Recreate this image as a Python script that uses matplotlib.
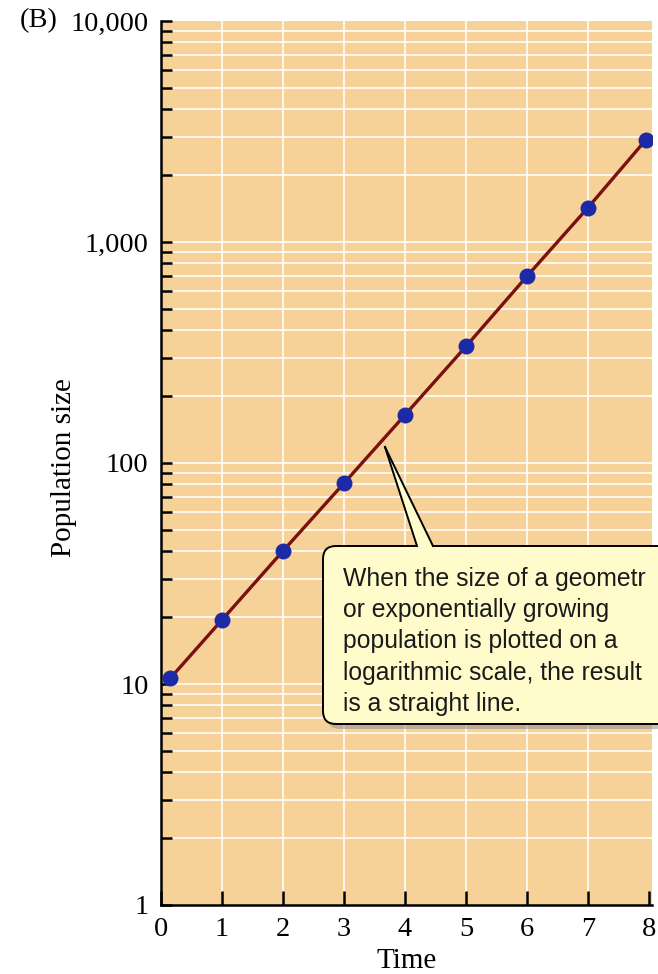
import matplotlib
matplotlib.use("Agg")
import matplotlib.pyplot as plt
from matplotlib.patches import FancyBboxPatch, Polygon
from matplotlib.transforms import IdentityTransform
from matplotlib.lines import Line2D
from matplotlib.ticker import FixedLocator, NullFormatter

# ---- data ----
time = [0.15, 1, 2, 3, 4, 5, 6, 7, 7.95]
population = [10.6, 19.5, 40, 81, 165, 337, 700, 1430, 2900]
x_ticks = [0, 1, 2, 3, 4, 5, 6, 7, 8]
y_ticks = [1, 10, 100, 1000, 10000]
y_tick_labels = ["1", "10", "100", "1,000", "10,000"]
callout_lines = [
    "When the size of a geometr",
    "or exponentially growing",
    "population is plotted on a",
    "logarithmic scale, the result",
    "is a straight line.",
]

W, H = 658, 974
DPI = 100
fig = plt.figure(figsize=(W / DPI, H / DPI), dpi=DPI)
fig.patch.set_facecolor("white")

def fx(x):
    return x / W

def fy(y):
    return 1 - y / H

# axes placement (pixels, y from top)
L, R, T, B = 161, 652, 21, 905
ax = fig.add_axes([fx(L), fy(B), fx(R) - fx(L), fy(T) - fy(B)])
ax.set_facecolor("#F6D299")
ax.set_yscale("log")
ax.set_xlim(0, 8.05)
ax.set_ylim(1, 10000)

# grid
minor_vals = [m * 10 ** e for e in range(0, 4) for m in range(2, 10)]
for v in minor_vals + [10, 100, 1000]:
    ax.axhline(v, color="white", lw=1.3, alpha=0.9, zorder=1)
for xv in x_ticks[1:8]:
    ax.axvline(xv, color="white", lw=1.3, alpha=0.9, zorder=1)

# data
ax.plot(time, population, color="#7A1010", lw=2.4, zorder=3, solid_capstyle="round")
ax.plot(time, population, "o", color="#1C2AA8", markersize=11.5, zorder=4,
        markeredgewidth=0)

# ticks
serif = "Liberation Serif"
ax.yaxis.set_major_locator(FixedLocator(y_ticks))
ax.set_yticklabels(y_tick_labels, fontfamily=serif, fontsize=20.5)
ax.yaxis.set_minor_locator(FixedLocator(minor_vals))
ax.yaxis.set_minor_formatter(NullFormatter())
ax.set_xticks(x_ticks)
ax.set_xticklabels([str(v) for v in x_ticks], fontfamily=serif, fontsize=20.5)
ax.tick_params(axis="y", which="both", direction="in", length=8, width=1.8,
               color="black", pad=9)
ax.tick_params(axis="x", which="both", direction="in", length=10, width=1.8,
               color="black", pad=9)

for s in ["top", "right"]:
    ax.spines[s].set_visible(False)
for s in ["left", "bottom"]:
    ax.spines[s].set_linewidth(1.8)
    ax.spines[s].set_color("black")

ax.set_xlabel("Time", fontfamily=serif, fontsize=21, labelpad=4)
ax.set_ylabel("Population size", fontfamily=serif, fontsize=21)
ax.yaxis.set_label_coords((77 - L) / (R - L), 0.495)

fig.text(fx(20), fy(21), "(B)", fontfamily=serif, fontsize=20.5, ha="left", va="center")

# ---- callout ----
box_l, box_t, box_r, box_b = 323, 546, 680, 724
ident = IdentityTransform()
shadow = FancyBboxPatch((box_l + 4, H - box_b - 5), box_r - box_l, box_b - box_t,
                        boxstyle="round,pad=0,rounding_size=13",
                        transform=ident, facecolor="#8a8a8a", edgecolor="none",
                        alpha=0.5, zorder=5)
fig.add_artist(shadow)
box = FancyBboxPatch((box_l, H - box_b), box_r - box_l, box_b - box_t,
                     boxstyle="round,pad=0,rounding_size=13",
                     transform=ident, facecolor="#FFFBCB", edgecolor="black",
                     linewidth=1.4, zorder=6)
fig.add_artist(box)
tip = (385, 447)
b1, b2 = (417, 546), (433, 546)
poly = Polygon([(b1[0], H - b1[1] - 2), (tip[0], H - tip[1]), (b2[0], H - b2[1] - 2)],
               closed=True, transform=ident, facecolor="#FFFBCB", edgecolor="none",
               zorder=7)
fig.add_artist(poly)
for bp in (b1, b2):
    fig.add_artist(Line2D([bp[0], tip[0]], [H - bp[1], H - tip[1]], transform=ident,
                          color="black", lw=1.4, zorder=8))

base0 = 586
for i, line in enumerate(callout_lines):
    fig.text(fx(343), fy(base0 + 31.2 * i), line, fontfamily="Liberation Sans",
             fontsize=17.8, ha="left", va="baseline", color="#1a1a1a", zorder=9)

fig.savefig("out.png", dpi=DPI)
